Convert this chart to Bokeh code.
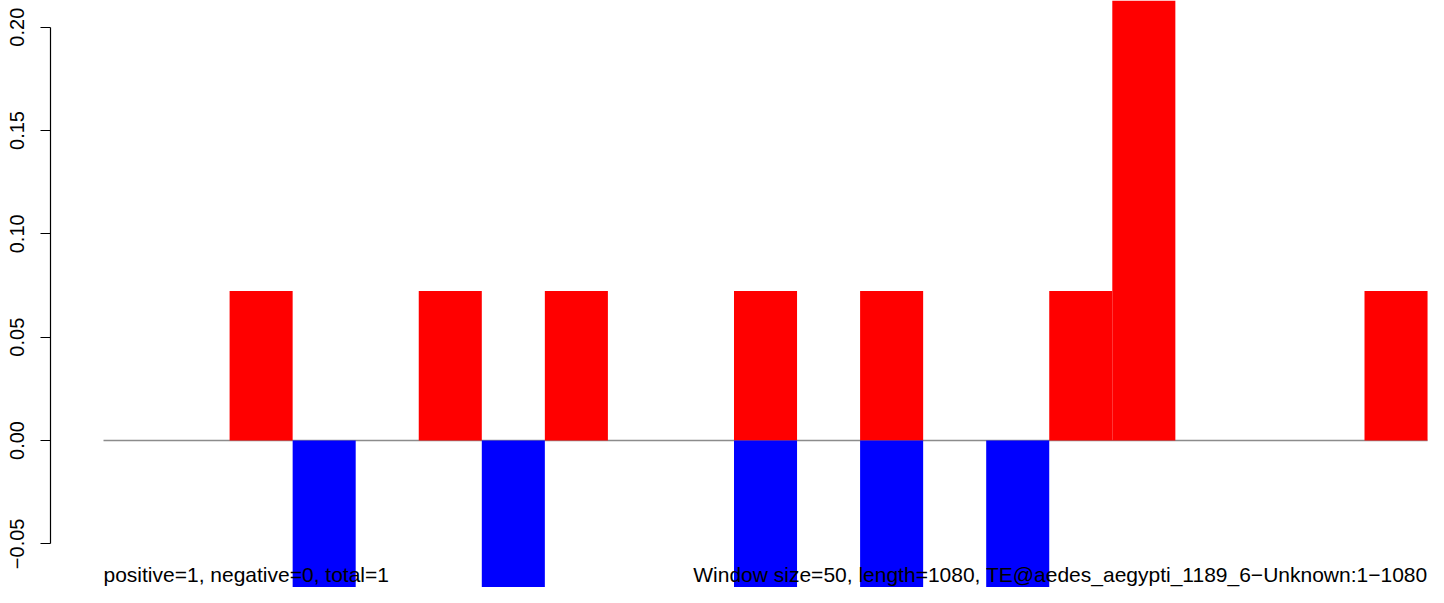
from bokeh.plotting import figure
from bokeh.models import Range1d, FixedTicker, ColumnDataSource
from bokeh.core.properties import value
from bokeh.embed import file_html
from bokeh.resources import INLINE

# ---- data ----
windows = list(range(21))
positive = [0, 0, 0.0723, 0, 0, 0.0723, 0, 0.0723, 0, 0, 0.0723, 0, 0.0723, 0, 0,
            0.0723, 0.289, 0, 0, 0, 0.0723]
negative = [0, 0, 0, -0.0723, 0, 0, -0.0723, 0, 0, 0, -0.0723, 0, -0.0723, 0,
            -0.0723, 0, 0, 0, 0, 0, 0]
y_ticks = [-0.05, 0.0, 0.05, 0.10, 0.15, 0.20]
y_tick_labels = ["\u22120.05", "0.00", "0.05", "0.10", "0.15", "0.20"]
left_note = "positive=1, negative=0, total=1"
right_note = "Window size=50, length=1080, TE@aedes_aegypti_1189_6\u2212Unknown:1\u22121080"

n = len(windows)
FONT = "Liberation Sans"

p = figure(width=1428, height=587, output_backend="svg", toolbar_location=None,
           x_range=Range1d(-0.8406, 21.0151), y_range=Range1d(-0.07113, 0.2129),
           min_border_left=50, min_border_right=0, min_border_top=0, min_border_bottom=0,
           x_axis_location=None)
p.outline_line_color = None
p.xgrid.visible = False
p.ygrid.visible = False
p.background_fill_color = "white"

# zero line across the bars
zsrc = ColumnDataSource(dict(x0=[windows[0]], x1=[windows[-1] + 1], y=[0.0]))
p.segment(x0="x0", x1="x1", y0="y", y1="y", source=zsrc, line_color="#8c8c8c", line_width=1.5)

pos_src = ColumnDataSource(dict(
    x=[w + 0.5 for w, v in zip(windows, positive) if v != 0],
    top=[v for v in positive if v != 0]))
neg_src = ColumnDataSource(dict(
    x=[w + 0.5 for w, v in zip(windows, negative) if v != 0],
    bottom=[v for v in negative if v != 0]))

p.vbar(x="x", width=1, top="top", bottom=0, source=pos_src, fill_color="#ff0000", line_color=None)
p.vbar(x="x", width=1, top=0, bottom="bottom", source=neg_src, fill_color="#0000ff", line_color=None)

# notes at bottom
tsrc_l = ColumnDataSource(dict(x=[windows[0]], y=[-0.0703], t=[left_note]))
tsrc_r = ColumnDataSource(dict(x=[windows[-1] + 1], y=[-0.0703], t=[right_note]))
p.text(x="x", y="y", text="t", source=tsrc_l, text_font=value(FONT), text_font_size="21px",
       text_color="black", text_align="left", text_baseline="bottom")
p.text(x="x", y="y", text="t", source=tsrc_r, text_font=value(FONT), text_font_size="21px",
       text_color="black", text_align="right", text_baseline="bottom")

ax = p.yaxis[0]
ax.ticker = FixedTicker(ticks=y_ticks)
ax.major_label_overrides = {t: l for t, l in zip(y_ticks, y_tick_labels)}
ax.bounds = (y_ticks[0], y_ticks[-1])
ax.minor_tick_line_color = None
ax.major_tick_out = 10
ax.major_tick_in = 0
ax.major_label_standoff = 16
ax.major_label_orientation = "vertical"
ax.major_label_text_font = FONT
ax.major_label_text_font_size = "20px"
ax.major_label_text_color = "black"
ax.axis_line_color = "black"
ax.major_tick_line_color = "black"
ax.axis_line_width = 1.2
ax.major_tick_line_width = 1.2

open("out.html", "w").write(file_html(p, INLINE))
